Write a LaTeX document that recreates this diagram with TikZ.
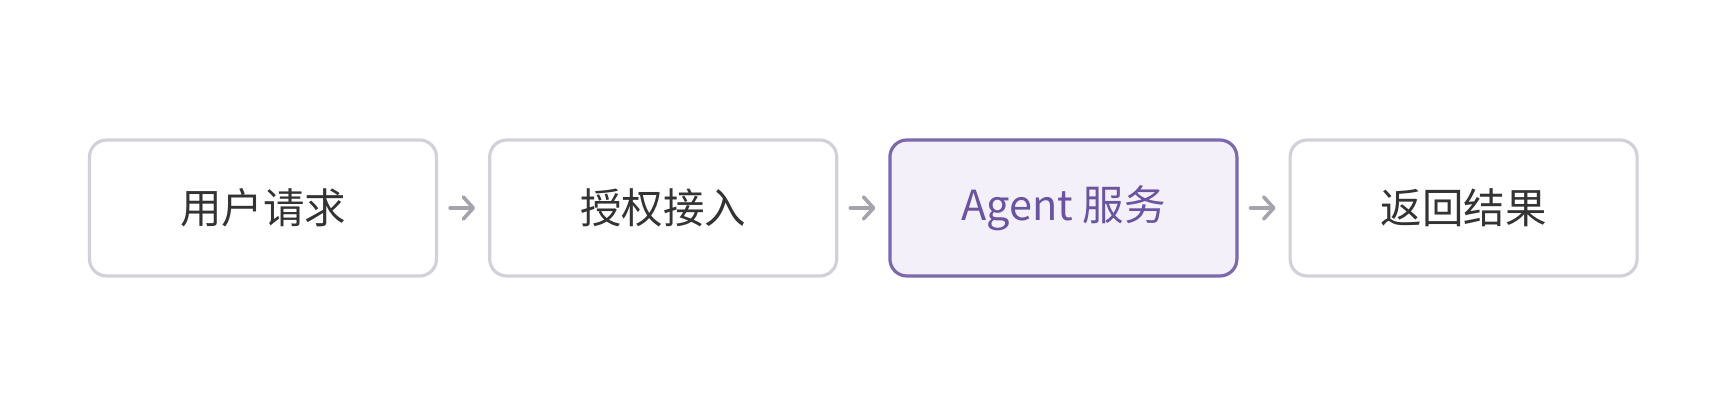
\documentclass[tikz,border=0pt]{standalone}
\usepackage{fontspec}
\setmainfont{Noto Sans CJK SC}
\usetikzlibrary{positioning,arrows.meta}
\definecolor{boxline}{HTML}{D2D0D8}
\definecolor{boxtext}{HTML}{333333}
\definecolor{agentline}{HTML}{7B68AE}
\definecolor{agentfill}{HTML}{F3F0FA}
\definecolor{agenttext}{HTML}{6A539F}
\definecolor{arrowgrey}{HTML}{A5A3AD}
\tikzset{
	stage/.style={draw=boxline, line width=0.032cm, rounded corners=0.17cm, fill=white,
		minimum width=3.47cm, minimum height=1.36cm, text=boxtext, font=\fontsize{11.8pt}{14pt}\selectfont},
	agent/.style={stage, draw=agentline, fill=agentfill, text=agenttext},
	flow/.style={draw=arrowgrey, line width=0.036cm, line cap=round,
		-{Straight Barb[length=0.1cm, width=0.22cm, line cap=round, line join=round]},
		shorten <=0.12cm, shorten >=0.13cm}
}
\begin{document}
\begin{tikzpicture}[node distance=0.50cm]
		\useasboundingbox (0,0) rectangle (17.36,4.16);
		% stages
		\node[stage] (request) at (2.63,2.08) {用户请求};
		\node[stage, right=of request] (auth) {授权接入};
		\node[agent, right=of auth] (service) {Agent 服务};
		\node[stage, right=of service] (result) {返回结果};
		% arrows
		\draw[flow] (request) -- (auth);
		\draw[flow] (auth) -- (service);
		\draw[flow] (service) -- (result);
	\end{tikzpicture}
\end{document}
